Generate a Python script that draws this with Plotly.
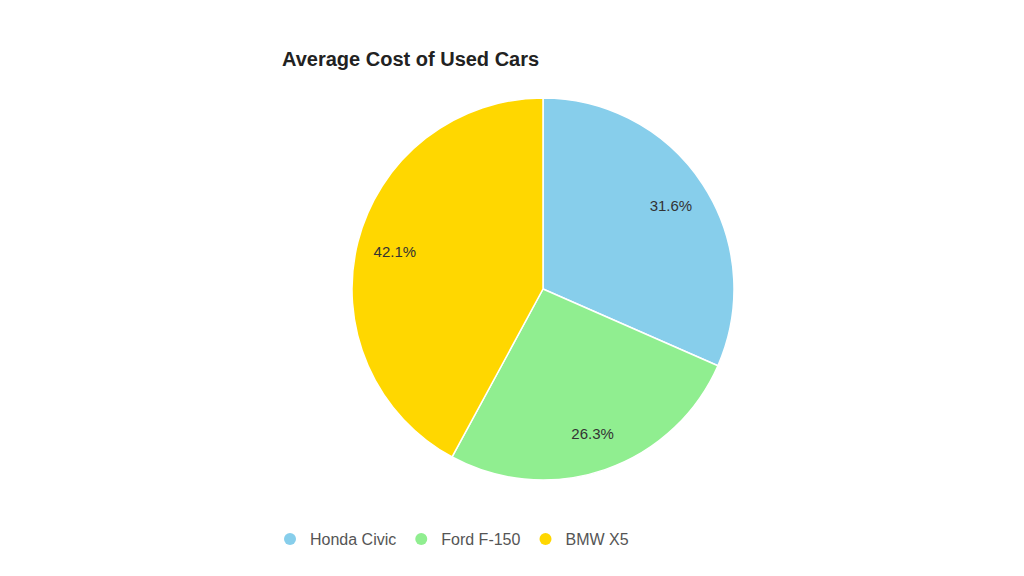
import plotly.graph_objects as go

cars = ["Honda Civic", "Ford F-150", "BMW X5"]
avg_cost = [12000, 10000, 16000]
colors = ["#87CEEB", "#90EE90", "#FFD700"]

fig = go.Figure()
# main pie (colours, no text)
fig.add_trace(go.Pie(
    labels=cars,
    values=avg_cost,
    marker=dict(colors=colors, line=dict(color="white", width=1.5)),
    sort=False,
    direction="clockwise",
    rotation=0,
    textinfo="none",
    showlegend=False,
    hoverinfo="label+value+percent",
))
# transparent ring used only to place percentage labels further out
fig.add_trace(go.Pie(
    labels=cars,
    values=avg_cost,
    hole=0.6,
    marker=dict(colors=["rgba(0,0,0,0)"] * len(cars), line=dict(width=0)),
    sort=False,
    direction="clockwise",
    rotation=0,
    texttemplate="%{percent:.1%}",
    textposition="inside",
    insidetextorientation="horizontal",
    textfont=dict(family="Arial", size=15, color="#333333"),
    showlegend=False,
    hoverinfo="skip",
))

for name, c in zip(cars, colors):
    fig.add_trace(go.Scatter(
        x=[None], y=[None], mode="markers", name=name,
        marker=dict(symbol="circle", size=16, color=c),
        showlegend=True, hoverinfo="skip",
    ))

fig.update_layout(
    width=1024, height=576,
    paper_bgcolor="white", plot_bgcolor="white",
    margin=dict(l=344, r=298, t=90, b=104),
    title=dict(
        text="<b>Average Cost of Used Cars</b>",
        x=274 / 1024, xanchor="left", xref="container",
        y=1 - 51 / 576, yanchor="middle", yref="container",
        font=dict(family="Arial", size=20, color="#222222"),
    ),
    xaxis=dict(visible=False),
    yaxis=dict(visible=False),
    legend=dict(
        orientation="h",
        xref="container", yref="container",
        x=262 / 1024, xanchor="left",
        y=1 - 531 / 576, yanchor="middle",
        font=dict(family="Arial", size=16, color="#555555"),
        itemsizing="constant",
        tracegroupgap=0,
    ),
)

fig.write_html("out.html")
